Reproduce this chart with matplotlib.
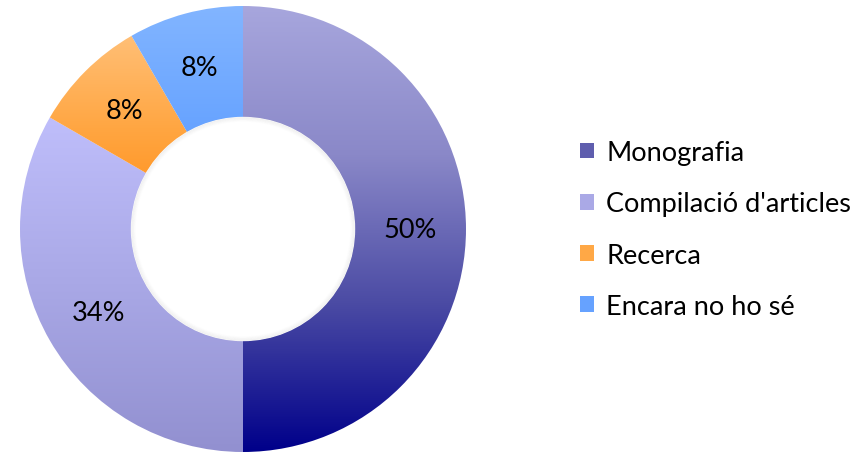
import numpy as np
import matplotlib
matplotlib.use("Agg")
import matplotlib.pyplot as plt
from matplotlib.colors import LinearSegmentedColormap
from matplotlib.patches import Patch

plt.rcParams['font.family'] = ['Lato', 'DejaVu Sans']

categories = ['Monografia', "Compilació d'articles", 'Recerca', 'Encara no ho sé']
values = [6, 4, 1, 1]
pct_labels = ['50%', '34%', '8%', '8%']

# gradient stops (top -> bottom) for every slice
gradients = [
    ['#a7a6dd', '#8a88c8', '#4b4ba4', '#00008a'],
    ['#bfbefb', '#a9a8e6', '#9290d0'],
    ['#ffbf76', '#ffa540', '#ff8c14'],
    ['#82b5ff', '#6aa5ff', '#4f92ff'],
]
legend_colors = ['#5f5eae', '#aaa9e6', '#ffa846', '#66a2ff']

fig = plt.figure(figsize=(8.65, 4.56), dpi=100)
R = 223.0
ax = fig.add_axes([(243 - 225) / 865, (226 - 225) / 456, 450 / 865, 450 / 456])
lim = 225 / R

wedges, _, autotexts = ax.pie(
    values, startangle=90, counterclock=False, radius=1,
    wedgeprops=dict(width=0.5, linewidth=0, facecolor='none'),
    autopct='%1.0f%%', pctdistance=0.75,
    textprops=dict(fontsize=19.5, color='black'),
)
ax.set_xlim(-lim, lim)
ax.set_ylim(-lim, lim)
ax.set_aspect('equal')
ax.axis('off')

for w, t, lab, stops in zip(wedges, autotexts, pct_labels, gradients):
    t.set_text(lab)
    t.set_zorder(5)
    verts = w.get_path().vertices
    y0, y1 = verts[:, 1].min(), verts[:, 1].max()
    cmap = LinearSegmentedColormap.from_list('g', stops)
    grad = np.linspace(0, 1, 256).reshape(-1, 1)
    im = ax.imshow(grad, cmap=cmap, aspect='auto', extent=(-1, 1, y0, y1),
                   origin='upper', zorder=1)
    im.set_clip_path(w)

# soft shadow around the hole
ax.add_patch(plt.Circle((0, 0), 0.5, color='white', zorder=2))
for i, a in enumerate(np.linspace(0.07, 0.0, 6)):
    circ = plt.Circle((0, 0), 0.5 - i * 0.004, fill=False, lw=1.0,
                      ec='gray', alpha=a, zorder=3)
    ax.add_patch(circ)

handles = [Patch(facecolor=c, edgecolor='none') for c in legend_colors]
fig.legend(handles, categories, loc='center left',
           bbox_to_anchor=(580 / 865, 225.5 / 456), frameon=False,
           fontsize=19.5, handlelength=0.52, handleheight=0.52,
           handletextpad=0.45, labelspacing=0.97, borderpad=0, borderaxespad=0)

fig.savefig('out.png', dpi=100)
